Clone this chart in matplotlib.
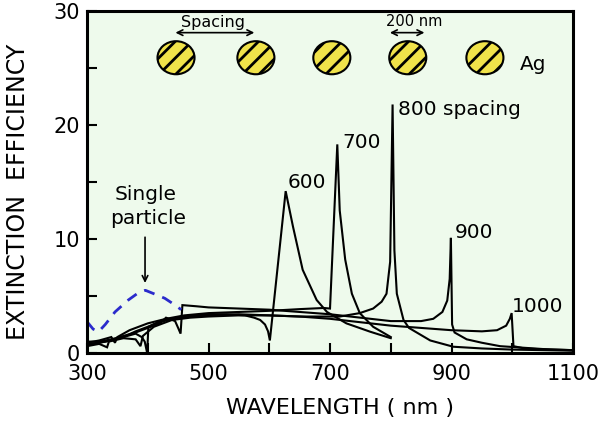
import numpy as np
import matplotlib
matplotlib.use("Agg")
from matplotlib import pyplot as plt
from matplotlib.patches import Ellipse

##################################################
# Data (wavelength in nm, extinction efficiency)

wl_600 = [300, 320, 340, 360, 380, 400, 420, 440, 460, 480, 500, 530, 560,
          575, 585, 593, 598, 601, 627, 639, 655, 678, 695, 727, 766, 800]
ext_600 = [0.8, 0.9, 1.1, 1.4, 1.9, 2.3, 2.7, 3.0, 3.2, 3.3, 3.4, 3.4, 3.3,
           3.1, 2.9, 2.5, 1.9, 1.1, 14.2, 11.1, 7.3, 4.65, 3.6, 2.6, 1.87, 1.3]

wl_700 = [300, 320, 340, 346, 350, 370, 400, 430, 460, 500, 550, 600, 650,
          690, 700, 712, 716, 725, 736, 749, 771, 800]
ext_700 = [0.9, 1.1, 1.4, 0.9, 1.4, 2.0, 2.6, 3.0, 3.3, 3.5, 3.6, 3.7, 3.85,
           3.95, 3.9, 18.3, 12.5, 8.2, 5.2, 3.5, 2.3, 1.4]

wl_800 = [300, 330, 360, 380, 390, 395, 399, 401, 420, 450, 500, 550, 600,
          650, 700, 716, 749, 771, 785, 793, 799, 803, 806, 810, 821, 830,
          865, 903, 950, 1000, 1100]
ext_800 = [0.7, 1.0, 1.4, 1.7, 1.4, 1.0, 0.0, 2.3, 2.8, 3.1, 3.3, 3.4, 3.3,
           3.2, 3.2, 3.2, 3.5, 3.9, 4.5, 5.2, 8.0, 21.8, 9.0, 5.2, 2.9, 2.2,
           1.1, 0.55, 0.4, 0.3, 0.2]

wl_900 = [300, 320, 340, 360, 380, 400, 420, 430, 445, 450, 454, 457, 480,
          500, 550, 600, 650, 700, 750, 800, 850, 870, 885, 893, 897, 899,
          901, 905, 925, 950, 980, 1050, 1100]
ext_900 = [1.0, 1.0, 1.2, 1.5, 1.8, 2.2, 2.6, 3.1, 2.8, 2.2, 1.7, 4.2, 4.1,
           4.0, 3.9, 3.8, 3.6, 3.4, 3.1, 2.8, 2.8, 3.0, 3.6, 4.6, 6.5, 10.1,
           2.5, 1.8, 1.2, 0.9, 0.6, 0.35, 0.25]

wl_1000 = [300, 320, 333, 336, 360, 380, 388, 392, 410, 440, 470, 500, 550,
           600, 650, 700, 750, 800, 850, 900, 950, 975, 990, 996, 999, 1002,
           1020, 1060, 1100]
ext_1000 = [0.6, 0.8, 0.5, 1.0, 1.3, 1.2, 0.6, 1.5, 2.3, 2.9, 3.1, 3.2, 3.3,
            3.3, 3.2, 3.0, 2.7, 2.4, 2.2, 2.0, 1.9, 2.0, 2.4, 3.0, 3.5, 0.6,
            0.4, 0.3, 0.25]

wl_single = [300, 310, 319, 330, 346, 368, 385, 396, 410, 428, 445, 455]
ext_single = [2.75, 2.1, 1.87, 2.5, 3.6, 4.65, 5.3, 5.5, 5.2, 4.8, 4.2, 3.8]

spacing_curves = [(wl_600, ext_600), (wl_700, ext_700), (wl_800, ext_800),
                  (wl_900, ext_900), (wl_1000, ext_1000)]

##################################################
# Plot

plt.rcParams['hatch.linewidth'] = 2.0

fig = plt.figure(figsize=(6.01, 4.21), dpi=100)
ax = fig.add_axes([0.1448, 0.1615, 0.8086, 0.8124])
ax.set_facecolor('#eefaec')

for wl, ext in spacing_curves:
    ax.plot(wl, ext, color='black', lw=1.5, solid_joinstyle='miter')

ax.plot(wl_single, ext_single, color='#2b2bcc', lw=2, dashes=(4, 3))

ax.set_xlim(300, 1100)
ax.set_ylim(0, 30)
ax.set_xticks([300, 500, 700, 900, 1100])
ax.set_xticks([400, 600, 800, 1000], minor=True)
ax.set_yticks([0, 10, 20, 30])
ax.set_yticks([5, 15, 25], minor=True)
ax.tick_params(which='both', direction='in', length=7, width=1.5,
               labelsize=15)
ax.tick_params(axis='x', pad=8)
ax.tick_params(axis='y', pad=5)
for sp in ax.spines.values():
    sp.set_linewidth(2.2)

# curve labels
ax.text(631, 14.5, '600', fontsize=14.5)
ax.text(721, 18.0, '700', fontsize=14.5)
ax.text(812, 20.9, '800 spacing', fontsize=14.5)
ax.text(906, 10.1, '900', fontsize=14.5)
ax.text(1000, 3.6, '1000', fontsize=14.5)
ax.text(397, 13.4, 'Single', fontsize=14.5, ha='center')
ax.text(400, 11.3, 'particle', fontsize=14.5, ha='center')
ax.annotate('', xy=(395.5, 5.9), xytext=(395.5, 10.4),
            arrowprops=dict(arrowstyle='->', color='black', lw=1.2))

# particle sketch at the top
for cx in [446.5, 578, 703, 828, 955]:
    ax.add_patch(Ellipse((cx, 25.9), 61, 2.9, facecolor='#f0e24a',
                         edgecolor='black', lw=1.5, hatch='//'))
ax.text(1013, 24.8, 'Ag', fontsize=14.5)
ax.text(507, 28.6, 'Spacing', fontsize=11.5, ha='center')
ax.annotate('', xy=(441, 28.1), xytext=(580, 28.1),
            arrowprops=dict(arrowstyle='<->', color='black', lw=1.2))
ax.text(838, 28.7, '200 nm', fontsize=10.5, ha='center')
ax.annotate('', xy=(794, 28.1), xytext=(860, 28.1),
            arrowprops=dict(arrowstyle='<->', color='black', lw=1.2))

fig.text(0.566, 0.031, 'WAVELENGTH ( nm )', fontsize=16, ha='center',
         va='center')
fig.text(0.03, 0.544, 'EXTINCTION  EFFICIENCY', fontsize=17, rotation=90,
         ha='center', va='center')

plt.savefig('out.png', dpi=100)
